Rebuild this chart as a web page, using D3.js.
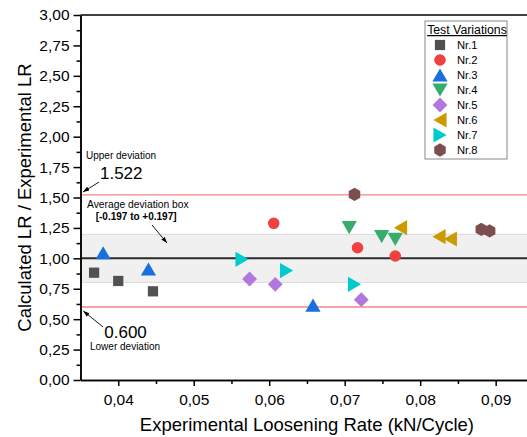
<!DOCTYPE html>
<html>
<head>
<meta charset="utf-8">
<script src="https://cdn.jsdelivr.net/npm/d3@7"></script>
<style>
  body { margin: 0; background: #fff; }
  svg { display: block; font-family: "Liberation Sans", Arial, sans-serif; }
</style>
</head>
<body>
<div id="chart"></div>
<script>
// series names + colours (Origin default palette)
var seriesNames = ["Nr.1", "Nr.2", "Nr.3", "Nr.4", "Nr.5", "Nr.6", "Nr.7", "Nr.8"];
var seriesColors = ["#515151", "#f14040", "#1a6fdf", "#37ad6b", "#b177de", "#cc9900", "#00cbcc", "#7d4e4e"];

// experimental loosening rate (kN/cycle)
var nr1X = [0.0368, 0.0400, 0.0446];
var nr2X = [0.0606, 0.0717, 0.0767];
var nr3X = [0.0380, 0.0440, 0.0658];
var nr4X = [0.0706, 0.0749, 0.0767];
var nr5X = [0.0574, 0.0608, 0.0722];
var nr6X = [0.0774, 0.0825, 0.0840];
var nr7X = [0.0564, 0.0623, 0.0713];
var nr8X = [0.0713, 0.0881, 0.0892];

// calculated LR / experimental LR
var nr1Y = [0.882, 0.814, 0.729];
var nr2Y = [1.288, 1.087, 1.019];
var nr3Y = [1.046, 0.912, 0.616];
var nr4Y = [1.252, 1.178, 1.156];
var nr5Y = [0.830, 0.786, 0.660];
var nr6Y = [1.252, 1.178, 1.159];
var nr7Y = [0.992, 0.899, 0.786];
var nr8Y = [1.526, 1.238, 1.225];

var xTicks = [0.04, 0.05, 0.06, 0.07, 0.08, 0.09];
var xMinor = [0.045, 0.055, 0.065, 0.075, 0.085];
var yTicks = [0, 0.25, 0.5, 0.75, 1, 1.25, 1.5, 1.75, 2, 2.25, 2.5, 2.75, 3];
var yMinor = [0.125, 0.375, 0.625, 0.875, 1.125, 1.375, 1.625, 1.875, 2.125, 2.375, 2.625, 2.875];

var upperDev = 1.522, lowerDev = 0.600, meanLine = 1.0;
var bandLow = 0.803, bandHigh = 1.197;

var allX = [nr1X, nr2X, nr3X, nr4X, nr5X, nr6X, nr7X, nr8X];
var allY = [nr1Y, nr2Y, nr3Y, nr4Y, nr5Y, nr6Y, nr7Y, nr8Y];

var width = 527, height = 437;

var svg = d3.select("#chart").append("svg")
    .attr("width", width)
    .attr("height", height);

svg.append("rect").attr("width", width).attr("height", height).attr("fill", "#fff");

// plot is cut off on the right, like the original picture
var x = d3.scaleLinear().domain([0.035, 0.095]).range([80.5, 533.4]);
var y = d3.scaleLinear().domain([0, 3]).range([380, 15]);

var loc = d3.formatLocale({decimal: ",", thousands: ".", grouping: [3], currency: ["", ""]});
var fmt = loc.format(".2f");

// grey average deviation box
svg.append("rect")
    .attr("x", x(0.035)).attr("width", x(0.095) - x(0.035))
    .attr("y", y(bandHigh)).attr("height", y(bandLow) - y(bandHigh))
    .attr("fill", "#f0f0f0");
[bandLow, bandHigh].forEach(function(v){
    svg.append("line")
        .attr("x1", x(0.035)).attr("x2", x(0.095))
        .attr("y1", y(v)).attr("y2", y(v))
        .attr("stroke", "#dadada").attr("stroke-width", 1);
});

// deviation lines
[upperDev, lowerDev].forEach(function(v){
    svg.append("line")
        .attr("x1", x(0.035)).attr("x2", x(0.095))
        .attr("y1", y(v)).attr("y2", y(v))
        .attr("stroke", "#f48585").attr("stroke-width", 1.3);
});
svg.append("line")
    .attr("x1", x(0.035)).attr("x2", x(0.095))
    .attr("y1", y(meanLine)).attr("y2", y(meanLine))
    .attr("stroke", "#2b2b2b").attr("stroke-width", 2);

// axes
var axisStyle = function(g){
    g.selectAll("path, line").attr("stroke", "#000").attr("stroke-width", 1.5);
    g.selectAll("text").attr("fill", "#000").style("font-size", "15.5px").style("font-family", "inherit");
};

svg.append("g").attr("transform", "translate(" + x(0.035) + ",0)")
    .call(d3.axisLeft(y).tickValues(yMinor).tickSize(4).tickSizeOuter(0).tickFormat(""))
    .call(axisStyle);
svg.append("g").attr("transform", "translate(" + x(0.035) + ",0)")
    .call(d3.axisLeft(y).tickValues(yTicks).tickSize(7).tickSizeOuter(0).tickPadding(4).tickFormat(fmt))
    .call(axisStyle);

svg.append("g").attr("transform", "translate(0," + y(0) + ")")
    .call(d3.axisBottom(x).tickValues(xMinor).tickSize(4).tickSizeOuter(0).tickFormat(""))
    .call(axisStyle);
svg.append("g").attr("transform", "translate(0," + y(0) + ")")
    .call(d3.axisBottom(x).tickValues(xTicks).tickSize(6).tickSizeOuter(0).tickPadding(8).tickFormat(fmt))
    .call(axisStyle);

// top frame
svg.append("line")
    .attr("x1", x(0.035)).attr("x2", x(0.095))
    .attr("y1", y(3)).attr("y2", y(3))
    .attr("stroke", "#000").attr("stroke-width", 1.5);

// axis titles
svg.append("text")
    .attr("x", (x(0.035) + x(0.095)) / 2).attr("y", 431)
    .attr("text-anchor", "middle")
    .style("font-size", "18.5px")
    .text("Experimental Loosening Rate (kN/Cycle)");
svg.append("text")
    .attr("transform", "translate(31," + (y(0) + y(3)) / 2 + ")rotate(-90)")
    .attr("text-anchor", "middle")
    .style("font-size", "18.5px")
    .text("Calculated LR / Experimental LR");

// marker shapes, each centred on its bounding box
function triangle(rot) {
    return {draw: function(ctx, size) {
        var s = Math.sqrt(size * 4 / Math.sqrt(3));
        var h = s * Math.sqrt(3) / 2;
        var pts = [[0, -h / 2], [s / 2, h / 2], [-s / 2, h / 2]];
        var c = Math.cos(rot), sn = Math.sin(rot);
        pts.forEach(function(p, i){
            var px = p[0] * c - p[1] * sn, py = p[0] * sn + p[1] * c;
            if (i === 0) ctx.moveTo(px, py); else ctx.lineTo(px, py);
        });
        ctx.closePath();
    }};
}
var diamond = {draw: function(ctx, size){
    var d = Math.sqrt(size * 2) / 2;
    ctx.moveTo(0, -d); ctx.lineTo(d, 0); ctx.lineTo(0, d); ctx.lineTo(-d, 0); ctx.closePath();
}};
var hexagon = {draw: function(ctx, size){
    var r = Math.sqrt(size / (3 * Math.sqrt(3) / 2));
    for (var i = 0; i < 6; i++) {
        var a = Math.PI / 3 * i - Math.PI / 2;
        if (i === 0) ctx.moveTo(r * Math.cos(a), r * Math.sin(a));
        else ctx.lineTo(r * Math.cos(a), r * Math.sin(a));
    }
    ctx.closePath();
}};

var symbolTypes = [d3.symbolSquare, d3.symbolCircle, triangle(0), triangle(Math.PI),
                   diamond, triangle(-Math.PI / 2), triangle(Math.PI / 2), hexagon];
var symbolSizes = [105, 105, 100, 100, 110, 100, 100, 115];

// points
var points = [];
allX.forEach(function(xs, s){
    xs.forEach(function(v, i){ points.push({s: s, x: v, y: allY[s][i]}); });
});

svg.append("g").selectAll("path")
    .data(points).enter()
    .append("path")
    .attr("transform", function(d){ return "translate(" + x(d.x) + "," + y(d.y) + ")"; })
    .attr("d", function(d){ return d3.symbol().type(symbolTypes[d.s]).size(symbolSizes[d.s])(); })
    .attr("fill", function(d){ return seriesColors[d.s]; });

// annotations (data units)
svg.append("defs").append("marker")
    .attr("id", "arr")
    .attr("viewBox", "0 0 10 10")
    .attr("refX", 10).attr("refY", 5)
    .attr("markerWidth", 7).attr("markerHeight", 7)
    .attr("orient", "auto")
    .append("path").attr("d", "M0,1.5L10,5L0,8.5Z").attr("fill", "#000");

var arrows = [
    {x1: 0.03745, y1: 1.627, x2: 0.03533, y2: 1.545},
    {x1: 0.04447, y1: 1.274, x2: 0.04646, y2: 1.126},
    {x1: 0.03798, y1: 0.436, x2: 0.03537, y2: 0.567}
];
svg.append("g").selectAll("line")
    .data(arrows).enter()
    .append("line")
    .attr("x1", function(d){ return x(d.x1); }).attr("y1", function(d){ return y(d.y1); })
    .attr("x2", function(d){ return x(d.x2); }).attr("y2", function(d){ return y(d.y2); })
    .attr("stroke", "#000").attr("stroke-width", 0.9)
    .attr("marker-end", "url(#arr)");

var notes = [
    {t: "Upper deviation", x: 0.03573, y: 1.816, size: 10, w: "normal"},
    {t: "1.522", x: 0.03758, y: 1.652, size: 17, w: "normal"},
    {t: "Average deviation box", x: 0.03586, y: 1.411, size: 10.3, w: "normal"},
    {t: "[-0.197 to +0.197]", x: 0.03701, y: 1.313, size: 10, w: "bold"},
    {t: "0.600", x: 0.03815, y: 0.343, size: 17, w: "normal"},
    {t: "Lower deviation", x: 0.03626, y: 0.248, size: 10, w: "normal"}
];
svg.append("g").selectAll("text")
    .data(notes).enter()
    .append("text")
    .attr("x", function(d){ return x(d.x); })
    .attr("y", function(d){ return y(d.y); })
    .style("font-size", function(d){ return d.size + "px"; })
    .style("font-weight", function(d){ return d.w; })
    .text(function(d){ return d.t; });

// legend
var leg = svg.append("g").attr("transform", "translate(425,21)");
leg.append("rect")
    .attr("width", 82).attr("height", 138)
    .attr("fill", "#fff").attr("stroke", "#888").attr("stroke-width", 1);
leg.append("text")
    .attr("x", 42).attr("y", 13)
    .attr("text-anchor", "middle")
    .style("font-size", "12.3px")
    .style("text-decoration", "underline")
    .text("Test Variations");
var item = leg.selectAll("g.item")
    .data(seriesNames).enter()
    .append("g")
    .attr("transform", function(d, i){ return "translate(15," + (24 + i * 15) + ")"; });
item.append("path")
    .attr("d", function(d, i){ return d3.symbol().type(symbolTypes[i]).size(symbolSizes[i])(); })
    .attr("fill", function(d, i){ return seriesColors[i]; });
item.append("text")
    .attr("x", 17).attr("y", 4)
    .style("font-size", "11.2px")
    .text(function(d){ return d; });
</script>
</body>
</html>
